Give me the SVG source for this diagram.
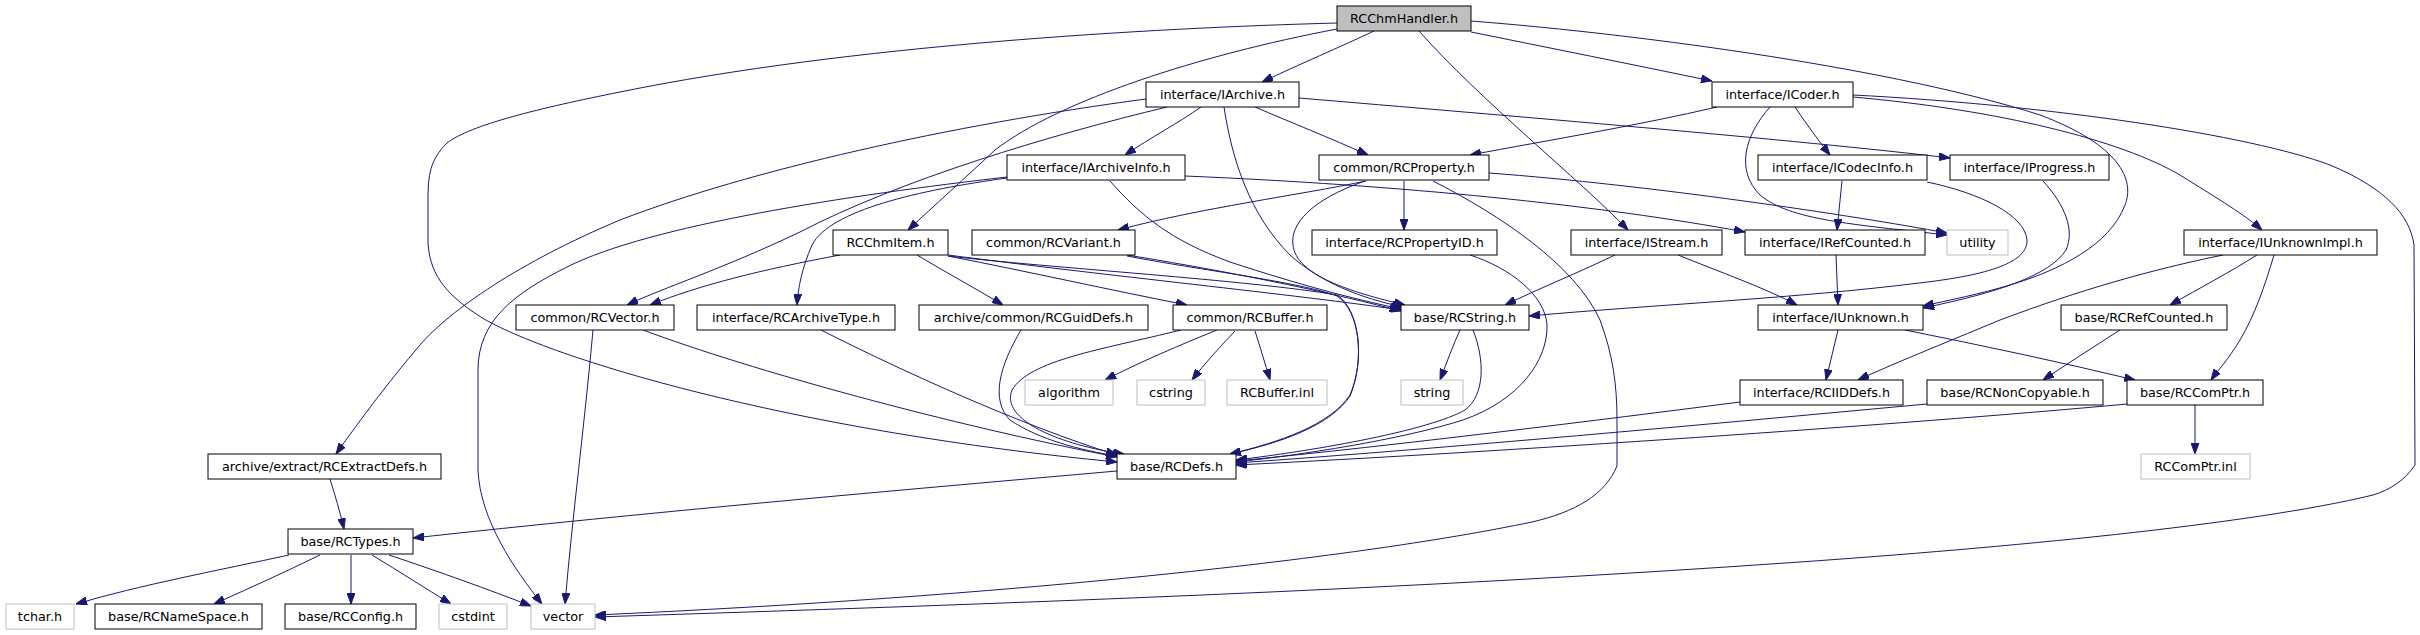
<svg xmlns="http://www.w3.org/2000/svg" width="2420" height="635" viewBox="0 0 2420 635">
<defs>
<marker id="a" markerWidth="11" markerHeight="8" refX="11" refY="4" orient="auto" markerUnits="userSpaceOnUse"><path d="M0,0 L11,4 L0,8 z" fill="#191970" stroke="#191970" stroke-width="1"/></marker>
<style>
.e path{fill:none;stroke:#191970;stroke-width:1;marker-end:url(#a)}
.n rect{fill:#fff;stroke:#000;stroke-width:1}
.g rect{fill:#fff;stroke:#bfbfbf;stroke-width:1}
.r rect{fill:#bfbfbf;stroke:#000;stroke-width:1}
text{font-family:"DejaVu Sans","Liberation Sans",sans-serif;font-size:12.8px;fill:#000;text-anchor:middle}
</style>
</defs>
<rect width="2420" height="635" fill="#fff"/>
<g class="e" id="edges">
<path d="M1374,31 C1340,47 1300,64 1262,82"/>
<path d="M1337,29 C1200,55 1060,100 995,150 C965,178 935,205 908,230"/>
<path d="M1337,23 C1150,28 850,45 620,92 C540,108 470,125 447,143 C430,160 428,175 428,200 L428,243 C430,270 440,292 484,319 C560,362 800,432 1117,462"/>
<path d="M1419,31 C1480,100 1580,180 1628,230"/>
<path d="M1471,32 C1550,48 1630,64 1712,81"/>
<path d="M1471,21 C1650,35 1900,70 2040,115 C2120,145 2135,180 2125,205 C2110,245 2060,270 2010,285 C1980,294 1950,300 1923,306"/>
<path d="M1201,107 C1180,122 1150,138 1125,155"/>
<path d="M1255,107 C1290,122 1330,138 1368,155"/>
<path d="M1299,98 C1500,115 1800,140 1950,158"/>
<path d="M1224,107 C1232,160 1250,215 1290,255 C1320,282 1360,298 1403,307"/>
<path d="M1167,107 C1050,135 900,180 800,232 C720,270 665,287 627,305"/>
<path d="M1146,99 C950,125 750,170 620,220 C520,262 450,310 420,345 C390,380 360,420 336,454"/>
<path d="M1007,178 C920,190 830,210 812,245 C802,268 798,288 797,305"/>
<path d="M1007,177 C850,195 650,225 567,267 C515,293 478,320 478,370 L478,470 C480,520 515,570 542,604"/>
<path d="M1110,181 C1140,215 1170,240 1230,262 C1300,285 1350,298 1401,309"/>
<path d="M1185,176 C1400,185 1600,205 1745,232"/>
<path d="M1366,181 C1300,195 1200,208 1118,230"/>
<path d="M1404,181 L1404,230"/>
<path d="M1365,181 C1310,200 1290,225 1293,245 C1296,275 1350,292 1405,305"/>
<path d="M1489,173 C1650,185 1850,215 1947,233"/>
<path d="M1433,181 C1500,215 1575,265 1600,320 C1613,355 1617,385 1617,420 L1617,466 C1605,495 1575,512 1532,522 C1350,560 1000,597 595,615"/>
<path d="M1717,107 C1640,125 1550,140 1470,155"/>
<path d="M1795,107 C1805,122 1818,140 1830,155"/>
<path d="M1770,107 C1745,135 1735,170 1760,195 C1790,220 1850,224 1947,235"/>
<path d="M1853,97 C2000,110 2120,140 2180,175 C2220,200 2245,215 2262,230"/>
<path d="M1853,95 C2050,105 2250,135 2330,165 C2385,188 2410,215 2414,245 L2415,465 C2405,480 2390,490 2373,495 C2250,525 2000,548 1800,562 C1400,590 1000,604 595,617"/>
<path d="M1842,181 L1837,230"/>
<path d="M1927,182 C1980,193 2025,215 2027,240 C2028,262 1990,275 1919,283 C1800,298 1650,305 1529,316"/>
<path d="M2043,181 C2065,205 2075,230 2066,250 C2050,275 2000,292 1923,308"/>
<path d="M1615,255 C1580,272 1540,288 1505,305"/>
<path d="M1678,255 C1720,272 1765,288 1797,305"/>
<path d="M1836,255 L1838,305"/>
<path d="M2223,255 C2150,270 2080,290 2000,320 C1940,345 1890,365 1858,380"/>
<path d="M2257,255 C2230,272 2200,288 2170,305"/>
<path d="M2274,255 C2265,285 2255,315 2240,340 C2228,360 2218,370 2211,380"/>
<path d="M1838,330 C1834,347 1830,363 1826,380"/>
<path d="M1905,330 C1980,345 2060,362 2135,380"/>
<path d="M2120,330 C2095,346 2070,362 2043,380"/>
<path d="M1740,402 C1600,420 1400,445 1236,461"/>
<path d="M1927,404 C1700,425 1450,448 1236,463"/>
<path d="M2127,404 C1900,425 1500,452 1236,465"/>
<path d="M2195,405 L2195,454"/>
<path d="M1460,330 C1453,345 1447,362 1440,380"/>
<path d="M1473,330 C1485,360 1485,395 1465,410 C1430,430 1320,450 1236,460"/>
<path d="M1470,255 C1510,268 1545,295 1547,325 C1548,360 1520,400 1463,420 C1400,440 1300,455 1236,462"/>
<path d="M948,255 C1100,275 1300,295 1401,310"/>
<path d="M948,256 C1050,268 1250,280 1337,295 C1360,310 1365,360 1350,395 C1330,425 1280,442 1230,454"/>
<path d="M1127,255 C1250,275 1340,295 1401,311"/>
<path d="M1127,256 C1200,270 1300,282 1337,296 C1360,311 1365,360 1350,396 C1330,426 1280,443 1230,454"/>
<path d="M840,255 C760,270 700,285 650,305"/>
<path d="M917,255 C945,272 975,288 1003,305"/>
<path d="M948,256 C1030,272 1110,290 1187,305"/>
<path d="M643,330 C750,370 950,425 1117,457"/>
<path d="M593,330 C585,420 572,520 565,604"/>
<path d="M821,330 C900,370 1020,425 1117,455"/>
<path d="M1021,330 C1000,365 990,400 1010,420 C1040,440 1080,450 1117,456"/>
<path d="M1181,330 C1100,350 1030,360 1012,390 C1000,420 1060,445 1124,454"/>
<path d="M1217,330 C1180,345 1140,362 1105,380"/>
<path d="M1235,331 C1220,347 1205,363 1192,380"/>
<path d="M1255,331 C1260,347 1265,363 1270,380"/>
<path d="M330,479 C335,495 340,512 344,529"/>
<path d="M1117,471 C900,490 650,512 413,538"/>
<path d="M289,555 C220,570 140,585 76,604"/>
<path d="M320,555 C285,572 250,588 214,604"/>
<path d="M351,555 L351,604"/>
<path d="M372,555 C400,572 425,588 451,604"/>
<path d="M389,555 C440,572 490,590 531,606"/>
</g>
<g id="n_root" class="r"><rect x="1337" y="6" width="134" height="25"/><text x="1404" y="23">RCChmHandler.h</text></g>
<g id="n_iarchive" class="n"><rect x="1146" y="82" width="153" height="25"/><text x="1222.5" y="99">interface/IArchive.h</text></g>
<g id="n_icoder" class="n"><rect x="1712" y="82" width="141" height="25"/><text x="1782.5" y="99">interface/ICoder.h</text></g>
<g id="n_iarchiveinfo" class="n"><rect x="1007" y="155" width="178" height="25"/><text x="1096" y="172">interface/IArchiveInfo.h</text></g>
<g id="n_rcproperty" class="n"><rect x="1319" y="155" width="170" height="25"/><text x="1404" y="172">common/RCProperty.h</text></g>
<g id="n_icodecinfo" class="n"><rect x="1758" y="155" width="169" height="25"/><text x="1842.5" y="172">interface/ICodecInfo.h</text></g>
<g id="n_iprogress" class="n"><rect x="1950" y="155" width="159" height="25"/><text x="2029.5" y="172">interface/IProgress.h</text></g>
<g id="n_rcchmitem" class="n"><rect x="833" y="230" width="115" height="25"/><text x="890.5" y="247">RCChmItem.h</text></g>
<g id="n_rcvariant" class="n"><rect x="972" y="230" width="163" height="25"/><text x="1053.5" y="247">common/RCVariant.h</text></g>
<g id="n_rcpropertyid" class="n"><rect x="1312" y="230" width="185" height="25"/><text x="1404.5" y="247">interface/RCPropertyID.h</text></g>
<g id="n_istream" class="n"><rect x="1571" y="230" width="151" height="25"/><text x="1646.5" y="247">interface/IStream.h</text></g>
<g id="n_irefcounted" class="n"><rect x="1745" y="230" width="180" height="25"/><text x="1835" y="247">interface/IRefCounted.h</text></g>
<g id="n_utility" class="g"><rect x="1947" y="230" width="61" height="25"/><text x="1977.5" y="247">utility</text></g>
<g id="n_iunknownimpl" class="n"><rect x="2184" y="230" width="193" height="25"/><text x="2280.5" y="247">interface/IUnknownImpl.h</text></g>
<g id="n_rcvector" class="n"><rect x="516" y="305" width="158" height="25"/><text x="595" y="322">common/RCVector.h</text></g>
<g id="n_rcarchivetype" class="n"><rect x="697" y="305" width="198" height="25"/><text x="796" y="322">interface/RCArchiveType.h</text></g>
<g id="n_rcguiddefs" class="n"><rect x="919" y="305" width="229" height="25"/><text x="1033.5" y="322">archive/common/RCGuidDefs.h</text></g>
<g id="n_rcbuffer" class="n"><rect x="1173" y="305" width="154" height="25"/><text x="1250" y="322">common/RCBuffer.h</text></g>
<g id="n_rcstring" class="n"><rect x="1401" y="305" width="128" height="25"/><text x="1465" y="322">base/RCString.h</text></g>
<g id="n_iunknown" class="n"><rect x="1758" y="305" width="165" height="25"/><text x="1840.5" y="322">interface/IUnknown.h</text></g>
<g id="n_rcrefcounted" class="n"><rect x="2061" y="305" width="166" height="25"/><text x="2144" y="322">base/RCRefCounted.h</text></g>
<g id="n_algorithm" class="g"><rect x="1025" y="380" width="88" height="25"/><text x="1069" y="397">algorithm</text></g>
<g id="n_cstring" class="g"><rect x="1137" y="380" width="68" height="25"/><text x="1171" y="397">cstring</text></g>
<g id="n_rcbufferinl" class="g"><rect x="1227" y="380" width="100" height="25"/><text x="1277" y="397">RCBuffer.inl</text></g>
<g id="n_string" class="g"><rect x="1401" y="380" width="62" height="25"/><text x="1432" y="397">string</text></g>
<g id="n_rciiddefs" class="n"><rect x="1740" y="380" width="163" height="25"/><text x="1821.5" y="397">interface/RCIIDDefs.h</text></g>
<g id="n_rcnoncopyable" class="n"><rect x="1927" y="380" width="176" height="25"/><text x="2015" y="397">base/RCNonCopyable.h</text></g>
<g id="n_rccomptr" class="n"><rect x="2127" y="380" width="136" height="25"/><text x="2195" y="397">base/RCComPtr.h</text></g>
<g id="n_rcextractdefs" class="n"><rect x="208" y="454" width="233" height="25"/><text x="324.5" y="471">archive/extract/RCExtractDefs.h</text></g>
<g id="n_rcdefs" class="n"><rect x="1117" y="454" width="119" height="25"/><text x="1176.5" y="471">base/RCDefs.h</text></g>
<g id="n_rccomptrinl" class="g"><rect x="2141" y="454" width="109" height="25"/><text x="2195.5" y="471">RCComPtr.inl</text></g>
<g id="n_rctypes" class="n"><rect x="288" y="529" width="125" height="25"/><text x="350.5" y="546">base/RCTypes.h</text></g>
<g id="n_tchar" class="g"><rect x="6" y="604" width="68" height="25"/><text x="40" y="621">tchar.h</text></g>
<g id="n_rcnamespace" class="n"><rect x="95" y="604" width="167" height="25"/><text x="178.5" y="621">base/RCNameSpace.h</text></g>
<g id="n_rcconfig" class="n"><rect x="285" y="604" width="131" height="25"/><text x="350.5" y="621">base/RCConfig.h</text></g>
<g id="n_cstdint" class="g"><rect x="439" y="604" width="68" height="25"/><text x="473" y="621">cstdint</text></g>
<g id="n_vector" class="g"><rect x="531" y="604" width="64" height="25"/><text x="563" y="621">vector</text></g>
</svg>
